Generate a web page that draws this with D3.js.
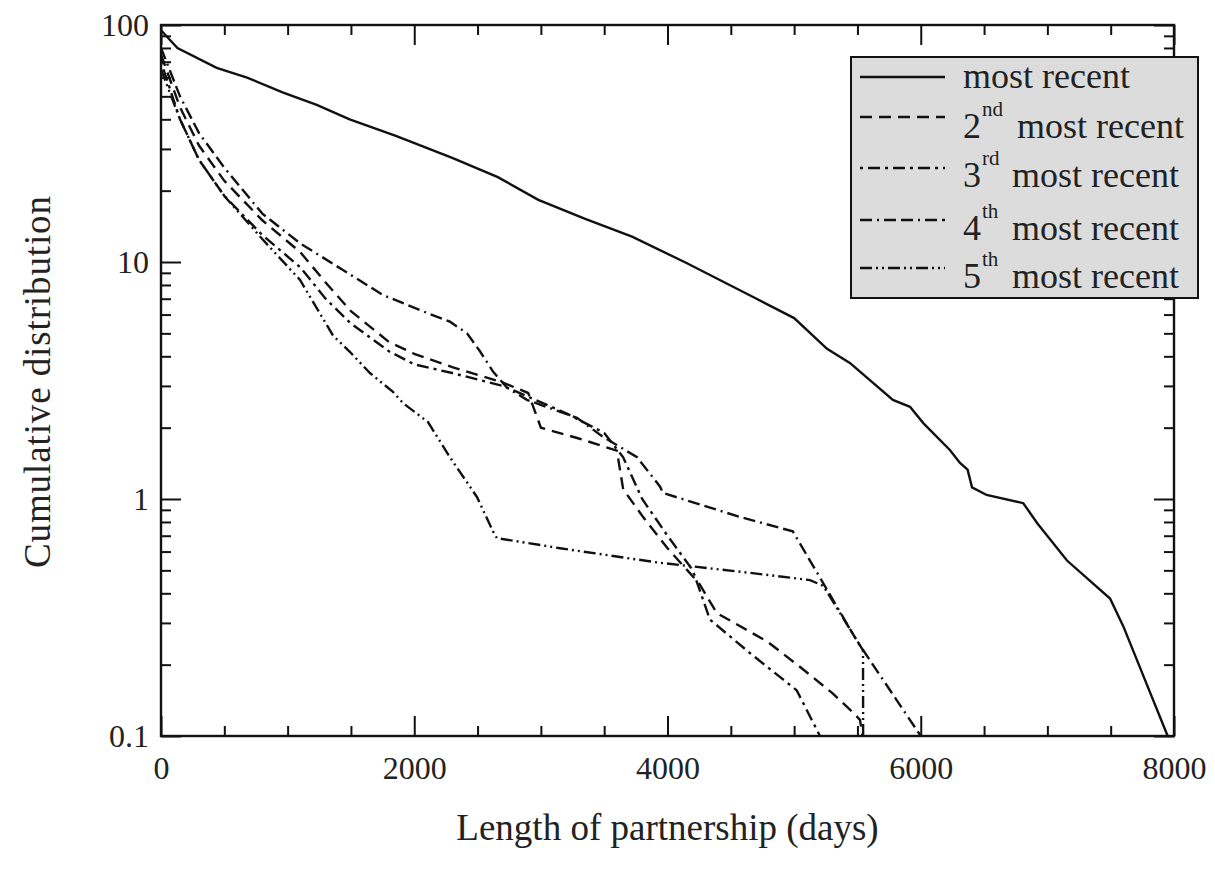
<!DOCTYPE html>
<html>
<head>
<meta charset="utf-8">
<script src="https://cdn.jsdelivr.net/npm/d3@7"></script>
<style>
  body { margin: 0; background: #fff; }
  svg { display: block; }
  text { font-family: "Liberation Serif", "Times New Roman", serif; fill: #222; }
</style>
</head>
<body>
<div id="chart"></div>
<script>
// --- data: [days, cumulative %] ---
const mostRecent = [[0,95],[130,80],[440,66],[680,60],[960,52],[1230,46],[1490,40],[1860,34],[2300,27.5],
  [2660,22.8],[2980,18.3],[3350,15.2],[3720,12.8],[4150,9.9],[4680,7.1],[5000,5.8],[5260,4.3],[5440,3.75],
  [5780,2.62],[5915,2.45],[6020,2.09],[6230,1.61],[6310,1.42],[6370,1.33],[6405,1.12],[6520,1.04],
  [6810,0.96],[6920,0.79],[7155,0.55],[7495,0.38],[7600,0.29],[7950,0.1]];

const second = [[0,75],[150,45],[300,31],[500,22],[800,15],[1100,11],[1300,8.2],[1500,6.2],[1800,4.6],
  [2000,4.1],[2300,3.6],[2700,3.1],[2900,2.8],[3000,2.0],[3300,1.8],[3600,1.6],[3650,1.1],[3800,0.85],
  [4000,0.62],[4250,0.44],[4390,0.33],[4790,0.25],[5050,0.195],[5300,0.152],[5470,0.125],[5520,0.117],[5540,0.1]];

const third = [[0,70],[150,40],[300,27],[500,19],[800,13],[1100,9.5],[1300,7],[1500,5.5],[1800,4.2],
  [2000,3.7],[2300,3.4],[2700,3.0],[2900,2.7],[3200,2.3],[3500,1.9],[3650,1.5],[3800,1.0],[4000,0.7],
  [4200,0.5],[4335,0.31],[4650,0.224],[5020,0.156],[5204,0.1]];

const fourth = [[0,80],[150,50],[300,35],[500,25],[800,16],[1098,12],[1437,9.25],[1753,7.26],[2100,6.1],
  [2282,5.6],[2417,5.0],[2519,4.2],[2622,3.45],[2732,2.95],[2890,2.62],[3285,2.2],[3490,1.83],[3760,1.5],
  [3940,1.13],[3965,1.06],[4573,0.84],[4990,0.73],[5125,0.55],[5500,0.25],[6000,0.1]];

const fifth = [[0,65],[150,40],[300,27],[500,19],[800,12.5],[1098,8.4],[1358,4.9],[1493,4.17],[1650,3.4],
  [1832,2.83],[1911,2.54],[2109,2.11],[2282,1.5],[2495,1.02],[2622,0.73],[2653,0.684],[3151,0.62],
  [3917,0.54],[4651,0.488],[5125,0.455],[5230,0.43],[5544,0.23],[5545,0.1]];

const seriesNames = ["most recent", "2", "3", "4", "5"];
const seriesSup = ["", "nd", "rd", "th", "th"];
const xTicks = [0, 2000, 4000, 6000, 8000];
const yTicks = [0.1, 1, 10, 100];

const width = 1215, height = 869;
const mLeft = 161, mRight = 1174, mTop = 25, mBottom = 736;

const svg = d3.select("#chart").append("svg")
  .attr("width", width).attr("height", height);

const x = d3.scaleLinear().domain([0, 8000]).range([mLeft, mRight]);
const y = d3.scaleLog().domain([0.1, 100]).range([mBottom, mTop]);

const dashes = [null, "12,7", "3,5,12,5", "12,5,2,5,12,5", "12,4,2,4,2,4"];
const allSeries = [mostRecent, second, third, fourth, fifth];

svg.append("clipPath").attr("id", "plot-clip")
  .append("rect").attr("x", mLeft).attr("y", mTop - 2)
  .attr("width", mRight - mLeft).attr("height", mBottom - mTop + 2);

const line = d3.line().x(d => x(d[0])).y(d => y(d[1]));

svg.append("g").attr("clip-path", "url(#plot-clip)")
  .selectAll("path").data(allSeries).enter()
  .append("path")
    .attr("d", line)
    .attr("fill", "none")
    .attr("stroke", "#111")
    .attr("stroke-width", 2.4)
    .attr("stroke-dasharray", (d, i) => dashes[i]);

// minor tick values
const xMinor = d3.range(0, 8001, 500).filter(v => v % 2000 !== 0);
const yMinor = [];
[0.1, 1, 10].forEach(b => { for (let k = 2; k <= 9; k++) yMinor.push(b * k); });

function styleAxis(g) {
  g.select(".domain").remove();
  g.selectAll("line").attr("stroke", "#111").attr("stroke-width", 2);
  g.selectAll("text").attr("font-size", 32)
    .attr("font-family", "Liberation Serif, serif").attr("fill", "#222");
}

// bottom axis (inward ticks)
svg.append("g").attr("transform", `translate(0,${mBottom})`)
  .call(d3.axisBottom(x).tickValues(xTicks).tickSizeInner(-20).tickSizeOuter(0)
    .tickPadding(20).tickFormat(d3.format("d")))
  .call(styleAxis);
svg.append("g").attr("transform", `translate(0,${mBottom})`)
  .call(d3.axisBottom(x).tickValues(xMinor).tickSize(-10).tickFormat(""))
  .call(styleAxis);
// top axis mirror
svg.append("g").attr("transform", `translate(0,${mTop})`)
  .call(d3.axisTop(x).tickValues(xTicks).tickSize(-20).tickFormat(""))
  .call(styleAxis);
svg.append("g").attr("transform", `translate(0,${mTop})`)
  .call(d3.axisTop(x).tickValues(xMinor).tickSize(-10).tickFormat(""))
  .call(styleAxis);

// left axis
svg.append("g").attr("transform", `translate(${mLeft},0)`)
  .call(d3.axisLeft(y).tickValues(yTicks).tickSizeInner(-20).tickSizeOuter(0)
    .tickPadding(12).tickFormat(d => d < 1 ? "0.1" : d3.format("d")(d)))
  .call(styleAxis);
svg.append("g").attr("transform", `translate(${mLeft},0)`)
  .call(d3.axisLeft(y).tickValues(yMinor).tickSize(-10).tickFormat(""))
  .call(styleAxis);
// right axis mirror
svg.append("g").attr("transform", `translate(${mRight},0)`)
  .call(d3.axisRight(y).tickValues(yTicks).tickSize(-20).tickFormat(""))
  .call(styleAxis);
svg.append("g").attr("transform", `translate(${mRight},0)`)
  .call(d3.axisRight(y).tickValues(yMinor).tickSize(-10).tickFormat(""))
  .call(styleAxis);

// frame
svg.append("rect")
  .attr("x", mLeft).attr("y", mTop)
  .attr("width", mRight - mLeft).attr("height", mBottom - mTop)
  .attr("fill", "none").attr("stroke", "#111").attr("stroke-width", 2.4);

// axis titles
svg.append("text")
  .attr("x", (mLeft + mRight) / 2).attr("y", 840)
  .attr("text-anchor", "middle").attr("font-size", 37)
  .text("Length of partnership (days)");
svg.append("text")
  .attr("transform", `translate(50,382) rotate(-90)`)
  .attr("text-anchor", "middle").attr("font-size", 37)
  .attr("textLength", 372).attr("lengthAdjust", "spacing")
  .text("Cumulative distribution");

// legend
const legend = svg.append("g");
legend.append("rect")
  .attr("x", 851).attr("y", 57).attr("width", 347).attr("height", 241)
  .attr("fill", "#dcdcdc").attr("stroke", "#111").attr("stroke-width", 2);

const rowLine = [77, 117, 168, 220, 268];
const rowBase = [88, 138, 187, 240, 288];

seriesNames.forEach((name, i) => {
  legend.append("line")
    .attr("x1", 860).attr("x2", 945)
    .attr("y1", rowLine[i]).attr("y2", rowLine[i])
    .attr("stroke", "#111").attr("stroke-width", 2.4)
    .attr("stroke-dasharray", dashes[i]);
  legend.append("text").attr("x", 963).attr("y", rowBase[i])
    .attr("font-size", 36).text(name);
  if (i > 0) {
    legend.append("text").attr("x", 982).attr("y", rowBase[i] - 22)
      .attr("font-size", 21).text(seriesSup[i]);
    legend.append("text").attr("x", i === 1 ? 1017 : 1012).attr("y", rowBase[i])
      .attr("font-size", 36).text("most recent");
  }
});
</script>
</body>
</html>
